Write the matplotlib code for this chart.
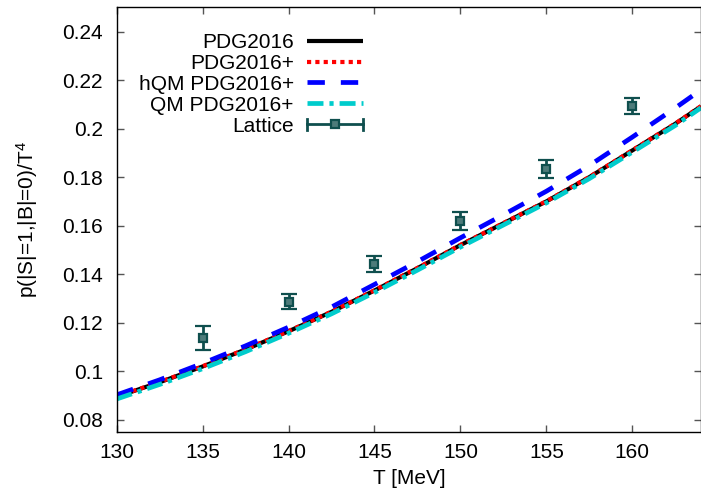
import matplotlib
matplotlib.use("Agg")
import matplotlib.pyplot as plt
from matplotlib.lines import Line2D
from matplotlib.legend_handler import HandlerBase

plt.rcParams["font.family"] = ["Liberation Sans", "DejaVu Sans"]
plt.rcParams["mathtext.fontset"] = "custom"
plt.rcParams["mathtext.rm"] = "Liberation Sans"
plt.rcParams["mathtext.it"] = "Liberation Sans"
plt.rcParams["lines.scale_dashes"] = False

# Temperature grid (MeV) for the model curves
T = [130, 132.5, 135, 137.5, 140, 142.5, 145, 147.5, 150, 152.5, 155, 157.5, 160, 162.5, 164]

pdg2016 = [0.0895, 0.0955, 0.1020, 0.1090, 0.1165, 0.1245, 0.1333, 0.1425,
           0.1520, 0.1610, 0.1700, 0.1800, 0.1910, 0.2020, 0.2092]
pdg2016_plus = [0.0896, 0.0956, 0.1021, 0.1091, 0.1166, 0.1246, 0.1334, 0.1426,
                0.1521, 0.1611, 0.1701, 0.1801, 0.1911, 0.2021, 0.2093]
hqm_pdg2016_plus = [0.0903, 0.0965, 0.1033, 0.1105, 0.1182, 0.1265, 0.1358, 0.1452,
                    0.1550, 0.1645, 0.1742, 0.1848, 0.1965, 0.2085, 0.2160]
qm_pdg2016_plus = [0.0886, 0.0946, 0.1011, 0.1081, 0.1157, 0.1237, 0.1325, 0.1417,
                   0.1512, 0.1603, 0.1694, 0.1794, 0.1903, 0.2013, 0.2086]

# Lattice QCD data
T_lat = [135, 140, 145, 150, 155, 160]
p_lat = [0.1138, 0.1287, 0.1442, 0.1619, 0.1833, 0.2094]
err_lat = [0.0050, 0.0031, 0.0034, 0.0037, 0.0036, 0.0033]

x_ticks = [130, 135, 140, 145, 150, 155, 160]
y_ticks = [0.08, 0.10, 0.12, 0.14, 0.16, 0.18, 0.20, 0.22, 0.24]
y_ticklabels = ["0.08", "0.1", "0.12", "0.14", "0.16", "0.18", "0.2", "0.22", "0.24"]

lat_color = "#0f4f4e"
lat_fill = "#4d7b7a"
fs = 15

W, H = 701, 493
fig = plt.figure(figsize=(W / 100, H / 100), dpi=100)
ax = fig.add_axes([116.7 / W, (H - 432) / H, (W - 116.7) / W, (432 - 7.3) / H])

l1, = ax.plot(T, pdg2016, color="black", lw=3.0, solid_capstyle="butt")
l2, = ax.plot(T, pdg2016_plus, color="#ff0000", lw=3.0, linestyle=(0, (3.0, 3.0)))
l3, = ax.plot(T, hqm_pdg2016_plus, color="#0000ff", lw=3.4, linestyle=(0, (12.5, 11.5)))
l4, = ax.plot(T, qm_pdg2016_plus, color="#00cccc", lw=3.4,
              linestyle=(0, (11.5, 4.3, 3.0, 4.3)))
ax.errorbar(T_lat, p_lat, yerr=err_lat, fmt="s", ms=6.0, mfc=lat_fill, mec=lat_color,
            mew=1.6, color=lat_color, ecolor=lat_color, elinewidth=2.0, capsize=6,
            capthick=2.0, zorder=5)

ax.set_xlim(130, 164)
ax.set_ylim(0.075, 0.25)
ax.set_xticks(x_ticks)
ax.set_xticklabels([str(v) for v in x_ticks])
ax.set_yticks(y_ticks)
ax.set_yticklabels(y_ticklabels)
ax.tick_params(axis="both", direction="in", length=5, width=1.0, labelsize=fs,
               top=True, right=True, color="#555555")
ax.tick_params(axis="y", pad=10)
ax.tick_params(axis="x", pad=8)
for s in ax.spines.values():
    s.set_linewidth(1.0)
    s.set_color("black")

ax.set_xlabel("T [MeV]", fontsize=fs, labelpad=5)
ax.set_ylabel("p(|S|=1,|B|=0)/T$^4$", fontsize=fs, labelpad=16)


class LatticeHandler(HandlerBase):
    def create_artists(self, legend, orig_handle, xdescent, ydescent, width, height,
                       fontsize, trans):
        y = height / 2 - ydescent
        x0, x1 = -xdescent, -xdescent + width
        bar = Line2D([x0, x1], [y, y], color=lat_color, lw=2.0)
        c0 = Line2D([x0, x0], [y - 4, y + 4], color=lat_color, lw=2.0)
        c1 = Line2D([x1, x1], [y - 4, y + 4], color=lat_color, lw=2.0)
        mk = Line2D([(x0 + x1) / 2], [y], marker="s", ms=6.0, mfc=lat_fill,
                    mec=lat_color, mew=1.6, linestyle="none")
        arts = [bar, c0, c1, mk]
        for a in arts:
            a.set_transform(trans)
        return arts


lat_proxy = object()
leg = ax.legend([l1, l2, l3, l4, lat_proxy],
                ["PDG2016", "PDG2016+", "hQM PDG2016+", "QM PDG2016+", "Lattice"],
                handler_map={lat_proxy: LatticeHandler()},
                loc="upper right", bbox_to_anchor=(363 / W, (H - 33) / H),
                bbox_transform=fig.transFigure, frameon=False, markerfirst=False,
                fontsize=fs, handlelength=2.7, handletextpad=0.62, labelspacing=0.09,
                borderpad=0, borderaxespad=0)

fig.savefig("out.png", dpi=100)
